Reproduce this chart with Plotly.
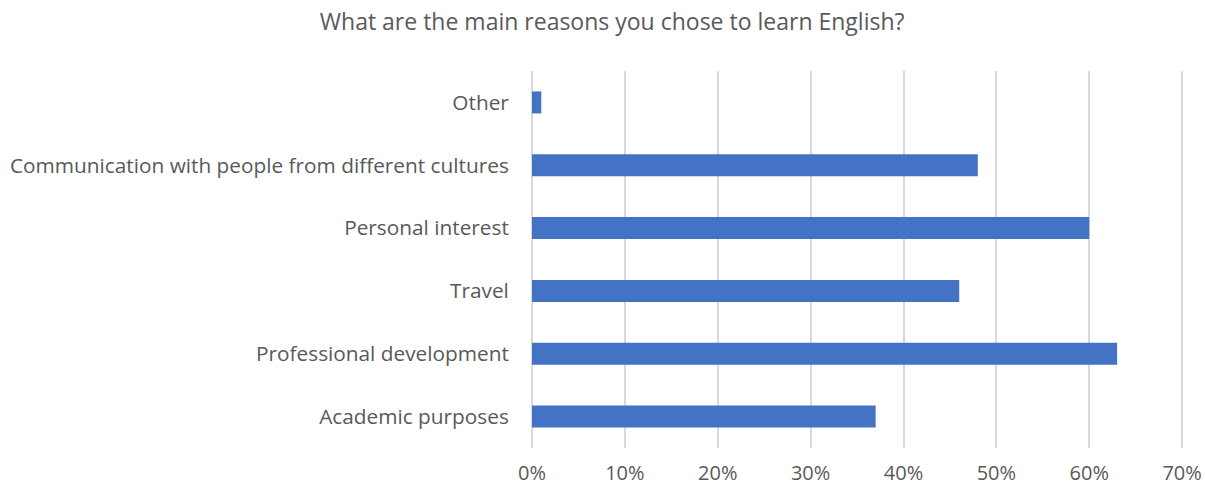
import plotly.graph_objects as go

# Survey results: share of respondents per reason (percent)
reasons = [
    "Academic purposes",
    "Professional development",
    "Travel",
    "Personal interest",
    "Communication with people from different cultures",
    "Other",
]
shares = [37, 63, 46, 60, 48, 1]

tick_vals = [0, 10, 20, 30, 40, 50, 60, 70]
tick_text = ["0%", "10%", "20%", "30%", "40%", "50%", "60%", "70%"]

text_color = "#595959"
font_family = "Open Sans, Segoe UI, sans-serif"

fig = go.Figure(
    go.Bar(
        x=shares,
        y=reasons,
        orientation="h",
        width=0.35,
        marker=dict(color="#4472C4", line=dict(width=0)),
        hoverinfo="x+y",
    )
)

# x range goes slightly past 70% so the last gridline is drawn
x_max = 70.2
plot_left = 532
px_per_unit = (1182 - plot_left) / 70.0
plot_right = plot_left + px_per_unit * x_max

fig.update_layout(
    width=1205,
    height=487,
    margin=dict(l=plot_left, r=1205 - plot_right, t=71, b=39),
    paper_bgcolor="white",
    plot_bgcolor="white",
    showlegend=False,
    title=dict(
        text="What are the main reasons you chose to learn English?",
        x=0.508,
        xanchor="center",
        y=0.955,
        yanchor="middle",
        font=dict(family=font_family, size=23, color=text_color),
    ),
    font=dict(family=font_family, size=21, color=text_color),
)

fig.update_xaxes(
    range=[0, x_max],
    tickvals=tick_vals,
    ticktext=tick_text,
    showgrid=True,
    gridcolor="#D9D9D9",
    gridwidth=2,
    zeroline=True,
    zerolinecolor="#D9D9D9",
    zerolinewidth=2,
    showline=False,
    ticks="outside",
    ticklen=7,
    tickcolor="rgba(0,0,0,0)",
    tickfont=dict(family=font_family, size=20, color=text_color),
    automargin=False,
    fixedrange=True,
)

fig.update_yaxes(
    categoryorder="array",
    categoryarray=reasons,
    range=[-0.5, 5.5],
    showgrid=False,
    zeroline=False,
    showline=False,
    ticks="outside",
    ticklen=18,
    tickcolor="rgba(0,0,0,0)",
    tickfont=dict(family=font_family, size=20.8, color=text_color),
    automargin=False,
    fixedrange=True,
)

fig.write_html("out.html")
